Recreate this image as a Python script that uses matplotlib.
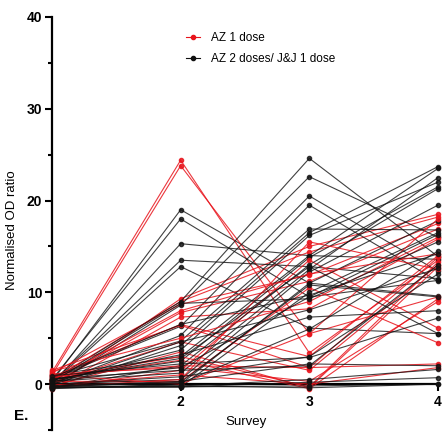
import numpy as np
import matplotlib
matplotlib.use("Agg")
import matplotlib.pyplot as plt
from matplotlib.lines import Line2D

plt.rcParams["font.family"] = ["Liberation Sans", "DejaVu Sans"]

surveys = [1, 2, 3, 4]
x_tick_labels = ["2", "3", "4"]
y_major = [0, 10, 20, 30, 40]
y_minor = [-5, 5, 15, 25, 35]

# AZ 2 doses / J&J 1 dose  (survey 1..4)
black_series = [
    [0.3, 19.0, 11.0, 9.6],
    [0.5, 18.0, 9.5, 11.3],
    [0.0, 15.3, 14.0, 13.6],
    [0.2, 13.5, 12.8, 11.5],
    [0.1, 12.8, 6.1, 5.5],
    [0.4, 9.0, 24.6, 13.9],
    [-0.2, 8.6, 22.6, 16.0],
    [0.6, 6.3, 20.5, 12.3],
    [0.0, 5.3, 19.5, 11.2],
    [0.8, 4.7, 16.9, 16.8],
    [-0.3, 4.2, 16.5, 23.7],
    [0.2, 3.7, 16.2, 22.0],
    [1.0, 3.0, 14.0, 23.5],
    [0.5, 2.5, 13.8, 21.5],
    [-0.4, 2.0, 13.0, 21.3],
    [0.3, 1.2, 12.5, 22.5],
    [0.0, 0.5, 12.2, 19.5],
    [-0.5, 0.0, 11.0, 17.8],
    [-0.3, -0.3, 10.0, 16.5],
    [0.7, 6.5, 9.7, 14.2],
    [0.2, 8.8, 9.3, 15.5],
    [-0.1, 4.6, 8.1, 12.6],
    [0.4, 3.2, 7.3, 8.0],
    [0.9, 2.2, 2.9, 7.2],
    [-0.2, 0.3, 2.2, 2.0],
    [0.1, -0.2, 0.5, 1.6],
    [-0.4, -0.3, 0.2, 0.7],
    [0.6, 1.5, 2.0, 13.0],
    [-0.2, 0.1, 6.0, 14.5],
    [0.3, 1.8, 9.5, 16.3],
    [0.0, 0.8, 3.0, 12.0],
    [-0.3, 0.2, 10.8, 9.5],
    [0.5, 2.8, 12.8, 5.5],
    [-0.3, -0.3, -0.2, 0.0],
    [-0.4, -0.2, -0.4, 0.0],
]

# AZ 1 dose
red_series = [
    [1.3, 24.4, 3.4, 13.5],
    [1.0, 23.8, 5.5, 9.5],
    [-0.3, 9.3, 15.0, 18.5],
    [0.5, 9.0, 14.4, 18.2],
    [1.2, 8.7, 11.9, 17.5],
    [0.0, 7.8, 11.2, 16.9],
    [-0.5, 7.3, 8.2, 15.8],
    [0.8, 6.5, 3.0, 14.0],
    [1.5, 6.4, 1.8, 13.8],
    [0.2, 4.6, 1.5, 13.0],
    [-0.2, 3.5, -0.4, 12.8],
    [0.6, 2.6, -0.5, 9.3],
    [1.1, 1.8, 0.3, 9.0],
    [-0.4, 1.5, 13.5, 6.1],
    [0.3, 0.3, 10.5, 4.5],
    [0.9, 2.0, 1.8, 2.2],
    [-0.1, 1.0, 0.0, 1.8],
    [1.4, 5.0, 9.0, 16.0],
    [0.4, 8.0, 12.0, 14.2],
    [-0.3, 0.5, 15.5, 12.5],
    [0.7, 3.0, -0.3, 13.3],
    [1.0, 0.0, 5.5, 18.0],
]

black = "#111111"
red = "#e8141c"

fig = plt.figure(figsize=(4.43, 4.32), dpi=100)
ax = fig.add_axes([52 / 443, 2 / 432, 386 / 443, 413 / 432])

n = max(len(black_series), len(red_series))
for i in range(n):
    if i < len(black_series):
        ax.plot(surveys, black_series[i], color=black, lw=0.8, alpha=0.8,
                marker="o", ms=3, mec=black, mfc=black, clip_on=False, zorder=2)
    if i < len(red_series):
        ax.plot(surveys, red_series[i], color=red, lw=0.8, alpha=0.85,
                marker="o", ms=3, mec=red, mfc=red, clip_on=False, zorder=2)

ax.set_xlim(1, 4)
ax.set_ylim(-5, 40)
ax.spines["top"].set_visible(False)
ax.spines["right"].set_visible(False)
ax.spines["bottom"].set_position(("data", 0))
ax.spines["left"].set_linewidth(1.6)
ax.spines["bottom"].set_linewidth(1.6)
ax.spines["left"].set_zorder(1)
ax.spines["bottom"].set_zorder(1)

ax.set_xticks([2, 3, 4])
ax.set_xticklabels(x_tick_labels, fontweight="bold", fontsize=10)
ax.set_yticks(y_major)
ax.set_yticklabels([str(v) for v in y_major], fontweight="bold", fontsize=10)
ax.set_yticks(y_minor, minor=True)
ax.tick_params(axis="both", which="major", direction="out", length=5, width=1.5, pad=2)
ax.tick_params(axis="y", which="minor", direction="out", length=3, width=1.5)
ax.tick_params(axis="x", which="major", pad=3)

ax.set_ylabel("Normalised OD ratio", fontsize=9.5)
ax.yaxis.set_label_coords(-0.088, 0.484)
fig.text(246 / 443, 1 - 422 / 432, "Survey", ha="center", va="center", fontsize=9.5)
fig.text(14 / 443, 1 - 416 / 432, "E.", ha="left", va="center", fontsize=11, fontweight="bold")

handles = [
    Line2D([], [], color=red, lw=0.8, marker="o", ms=3),
    Line2D([], [], color=black, lw=0.8, marker="o", ms=3),
]
ax.legend(handles, ["AZ 1 dose", "AZ 2 doses/ J&J 1 dose"], loc="upper left",
          bbox_to_anchor=(186 / 443, 1 - 32 / 432), bbox_transform=fig.transFigure,
          frameon=False, fontsize=8.5, handlelength=1.2, handletextpad=0.9,
          labelspacing=0.75, borderpad=0, borderaxespad=0)

fig.savefig("out.png", dpi=100)
